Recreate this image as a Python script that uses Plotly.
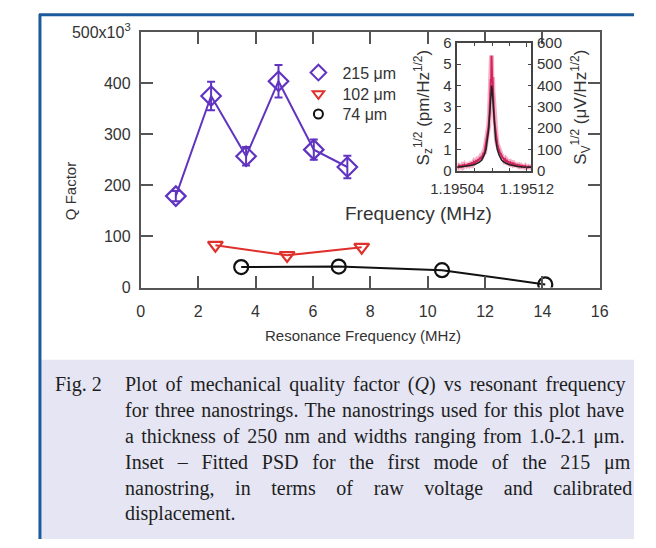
import plotly.graph_objects as go

W, H = 656, 548
def px(x): return x / W
def py(y): return 1 - y / H

# ---------------- data ----------------
series_names = ["215 μm", "102 μm", "74 μm"]
f215 = [1.22, 2.45, 3.67, 4.8, 6.03, 7.2]
q215 = [179, 375, 257, 404, 270, 236]
e215 = [10, 28, 18, 32, 20, 22]
f102 = [2.6, 5.1, 7.7]
q102 = [83, 63, 79]
f74 = [3.5, 6.9, 10.5, 14.1]
q74 = [40, 41, 34, 6]

x_ticks = [0, 2, 4, 6, 8, 10, 12, 14, 16]
y_ticks = [0, 100, 200, 300, 400, 500]
y_ticktext = ["0", "100", "200", "300", "400", "500x10<sup>3</sup>"]

# inset PSD (frequency offset in Hz from 1.19504 MHz, amplitude in pm/Hz^1/2)
psd_base_mhz = 1.19504
psd_off_hz = [0, 1, 2, 3, 4, 5, 6, 7, 8, 9, 10, 11, 12, 13, 14, 15, 16, 17, 18, 19,
              20, 21, 22, 23, 24, 25, 26, 27, 28, 29, 30, 31, 32, 33, 34, 35, 36, 37,
              37.5, 38, 38.5, 39, 39.3, 39.6, 40, 40.5, 41, 41.5, 42, 43, 44, 45, 46,
              47, 48, 49, 50, 51, 52, 53, 54, 55, 56, 57, 58, 59, 60, 61, 62, 63, 64,
              65, 66, 67, 68, 69, 70, 71, 72, 73, 74, 75, 76, 77, 78, 79, 80, 81, 82,
              83, 84, 85]
psd_val = [0.22, 0.18, 0.25, 0.2, 0.23, 0.17, 0.26, 0.22, 0.28, 0.2, 0.3, 0.24, 0.27,
           0.35, 0.28, 0.33, 0.3, 0.4, 0.34, 0.42, 0.36, 0.45, 0.5, 0.42, 0.55, 0.5,
           0.62, 0.55, 0.7, 0.65, 0.85, 0.8, 1.05, 1.15, 1.4, 1.7, 2.1, 2.7, 3.1, 3.6,
           4.3, 4.1, 5.4, 4.5, 4.3, 4.4, 3.7, 3.3, 2.8, 2.2, 1.8, 1.45, 1.25, 1.1, 0.95,
           0.85, 0.8, 0.7, 0.62, 0.6, 0.5, 0.55, 0.45, 0.48, 0.4, 0.42, 0.36, 0.4, 0.33,
           0.36, 0.3, 0.34, 0.28, 0.3, 0.26, 0.29, 0.24, 0.27, 0.22, 0.25, 0.2, 0.24,
           0.21, 0.19, 0.23, 0.18, 0.2, 0.17, 0.21, 0.18, 0.2, 0.17]
fit_off_hz = [0, 5, 10, 15, 20, 25, 28, 31, 33, 35, 36, 37, 38, 39, 39.5, 40, 41, 42,
              43, 44, 46, 48, 51, 54, 59, 64, 69, 75, 85]
fit_val = [0.17, 0.19, 0.21, 0.25, 0.3, 0.4, 0.5, 0.75, 1.0, 1.5, 1.9, 2.5, 3.2, 3.85,
           4.0, 3.85, 3.2, 2.5, 1.9, 1.5, 1.0, 0.75, 0.5, 0.4, 0.3, 0.25, 0.21, 0.19, 0.17]
inset_xticks = [1.19504, 1.19512]
inset_xticktext = ["1.19504", "1.19512"]
inset_yticks = [0, 1, 2, 3, 4, 5, 6]
inset_y2ticks = [0, 100, 200, 300, 400, 500, 600]

caption_label = "Fig. 2"
caption_lines = [
    "Plot of mechanical quality factor (<i>Q</i>) vs resonant frequency",
    "for three nanostrings. The nanostrings used for this plot have",
    "a thickness of 250 nm and widths ranging from 1.0-2.1 μm.",
    "Inset – Fitted PSD for the first mode of the 215 μm",
    "nanostring, in terms of raw voltage and calibrated",
    "displacement.",
]

# ---------------- styles ----------------
PURPLE = "#6034c0"
RED = "#e0302c"
BLACK = "#111111"
AX = "#555555"
TXT = "#333333"
SANS = "Liberation Sans, Arial, sans-serif"
SERIF = "Liberation Serif, Times New Roman, serif"

fig = go.Figure()

fig.add_trace(go.Scatter(
    x=f215, y=q215, mode="lines+markers", showlegend=False,
    line=dict(color=PURPLE, width=2),
    marker=dict(symbol="diamond-open", size=15, color=PURPLE, line=dict(width=2.2)),
    error_y=dict(type="data", array=e215, color=PURPLE, thickness=2, width=4)))
fig.add_trace(go.Scatter(
    x=f102, y=q102, mode="lines+markers", showlegend=False,
    line=dict(color=RED, width=2),
    marker=dict(symbol="triangle-down-open", size=13, color=RED, line=dict(width=2.2))))
fig.add_trace(go.Scatter(
    x=f74, y=q74, mode="lines+markers", showlegend=False,
    line=dict(color=BLACK, width=2),
    marker=dict(symbol="circle-open", size=14, color=BLACK, line=dict(width=2.2))))

# legend entries, one legend box per entry
for name, sym, col, sz, lg in [(series_names[0], "diamond-open", PURPLE, 12, "legend"),
                               (series_names[1], "triangle-down-open", RED, 10, "legend2"),
                               (series_names[2], "circle-open", BLACK, 9, "legend3")]:
    fig.add_trace(go.Scatter(x=[None], y=[None], mode="markers", name=name, legend=lg,
                             marker=dict(symbol=sym, size=sz, color=col, line=dict(width=2))))

# inset traces
psd_x = [psd_base_mhz + o * 1e-6 for o in psd_off_hz]
fit_x = [psd_base_mhz + o * 1e-6 for o in fit_off_hz]
fig.add_trace(go.Scatter(x=psd_x, y=psd_val, mode="lines", showlegend=False,
                         line=dict(color="rgba(235,110,150,0.55)", width=5),
                         xaxis="x2", yaxis="y2"))
fig.add_trace(go.Scatter(x=psd_x, y=psd_val, mode="lines", showlegend=False,
                         line=dict(color="rgba(205,20,80,0.9)", width=2),
                         xaxis="x2", yaxis="y2"))
fig.add_trace(go.Scatter(x=fit_x, y=fit_val, mode="lines", showlegend=False,
                         line=dict(color="#222222", width=1.5),
                         xaxis="x2", yaxis="y2"))
fig.add_trace(go.Scatter(x=[None], y=[None], showlegend=False, xaxis="x2", yaxis="y3"))

axis_common = dict(showline=True, linecolor=AX, linewidth=2, mirror="ticks",
                   ticks="inside", tickcolor=AX, tickwidth=2, ticklen=12,
                   showgrid=False, zeroline=False,
                   tickfont=dict(family=SANS, size=16, color=TXT))

inset_common = dict(showline=True, linecolor="#444", linewidth=1.5,
                    ticks="inside", tickcolor="#444", tickwidth=1.2, ticklen=4,
                    showgrid=False, zeroline=False,
                    tickfont=dict(family=SANS, size=15, color=TXT))

legend_style = dict(xanchor="left", yanchor="middle", bgcolor="rgba(0,0,0,0)",
                    font=dict(family=SANS, size=16, color=TXT), itemwidth=38,
                    borderwidth=0)

fig.update_layout(
    width=W, height=H, margin=dict(l=0, r=0, t=0, b=0),
    paper_bgcolor="white", plot_bgcolor="white",
    xaxis=dict(domain=[px(123), px(619)], range=[0, 16], tickvals=x_ticks,
               anchor="y", ticklabelstandoff=8, **axis_common),
    yaxis=dict(domain=[py(287), py(22)], range=[0, 500], tickvals=y_ticks,
               ticktext=y_ticktext, anchor="x", ticklabelstandoff=5, **axis_common),
    xaxis2=dict(domain=[px(465), px(545)], range=[1.19504, 1.195125],
                tickvals=inset_xticks, ticktext=inset_xticktext,
                anchor="y2", mirror="ticks", ticklabelstandoff=3,
                minor=dict(dtick=0.00002, ticks="inside", ticklen=3, tickcolor="#444"),
                **inset_common),
    yaxis2=dict(domain=[py(166), py(33)], range=[0, 6], tickvals=inset_yticks,
                anchor="x2", ticklabelstandoff=1, **inset_common),
    yaxis3=dict(domain=[py(166), py(33)], range=[0, 600], tickvals=inset_y2ticks,
                anchor="x2", overlaying="y2", side="right", ticklabelstandoff=1,
                **inset_common),
    legend=dict(x=px(289), y=py(64), **legend_style),
    legend2=dict(x=px(289), y=py(86), **legend_style),
    legend3=dict(x=px(289), y=py(107), **legend_style),
)

shapes = [
    dict(type="rect", xref="paper", yref="paper", x0=px(15), x1=1, y0=0, y1=py(362),
         fillcolor="#e5e5f3", line=dict(width=0), layer="below"),
    dict(type="line", xref="paper", yref="paper", x0=px(14), x1=px(14), y0=0, y1=py(3),
         line=dict(color="#1d5a9b", width=3)),
    dict(type="line", xref="paper", yref="paper", x0=px(13), x1=1, y0=py(4), y1=py(4),
         line=dict(color="#1d5a9b", width=3)),
]
fig.update_layout(shapes=shapes)

ann = []
ann.append(dict(text="Q Factor", x=px(36), y=py(155), xref="paper", yref="paper",
                textangle=-90, showarrow=False, font=dict(family=SANS, size=15, color=TXT)))
ann.append(dict(text="Resonance Frequency (MHz)", x=px(363), y=py(337), xref="paper",
                yref="paper", showarrow=False, font=dict(family=SANS, size=15, color=TXT)))
ann.append(dict(text="Frequency (MHz)", x=px(505), y=py(210), xref="paper", yref="paper",
                showarrow=False, font=dict(family=SANS, size=19, color=TXT)))
ann.append(dict(text="S<sub>z</sub><sup>1/2</sup> (pm/Hz<sup>1/2</sup>)", x=px(428),
                y=py(100), xref="paper", yref="paper", textangle=-90, showarrow=False,
                xanchor="center", yanchor="middle",
                font=dict(family=SANS, size=17, color=TXT)))
ann.append(dict(text="S<sub>V</sub><sup>1/2</sup> (μV/Hz<sup>1/2</sup>)", x=px(598),
                y=py(100), xref="paper", yref="paper", textangle=-90, showarrow=False,
                xanchor="center", yanchor="middle",
                font=dict(family=SANS, size=17, color=TXT)))

# caption, justified through word spacing (serif metrics, per 1000 em)
TW = {' ': 250, '(': 333, ')': 333, ',': 250, '-': 333, '.': 250, '–': 500, 'μ': 576,
      'A': 722, 'B': 667, 'C': 667, 'D': 722, 'E': 611, 'F': 556, 'G': 722, 'H': 722,
      'I': 333, 'J': 389, 'K': 722, 'L': 611, 'M': 889, 'N': 722, 'O': 722, 'P': 556,
      'Q': 722, 'R': 667, 'S': 556, 'T': 611, 'U': 722, 'V': 722, 'W': 944, 'X': 722,
      'Y': 722, 'Z': 611, 'a': 444, 'b': 500, 'c': 444, 'd': 500, 'e': 444, 'f': 333,
      'g': 500, 'h': 500, 'i': 278, 'j': 278, 'k': 500, 'l': 278, 'm': 778, 'n': 500,
      'o': 500, 'p': 500, 'q': 500, 'r': 333, 's': 389, 't': 278, 'u': 500, 'v': 500,
      'w': 722, 'x': 500, 'y': 500, 'z': 444}
for d in "0123456789":
    TW[d] = 500

CAP_SIZE = 20
RENDER_K = 1.085   # observed rendering width factor
def tw(s):
    s = s.replace("<i>", "").replace("</i>", "")
    return sum(TW.get(c, 500) for c in s) / 1000 * CAP_SIZE * RENDER_K

CAP_X0, CAP_X1 = 104, 645
CAP_Y0, CAP_DY = 388, 26.8
capfont = dict(family=SERIF, size=CAP_SIZE, color="#1e1e1e")
ann.append(dict(text=caption_label, x=px(28), y=py(CAP_Y0), xref="paper", yref="paper",
                xanchor="left", yanchor="middle", showarrow=False, font=capfont))
for i, line in enumerate(caption_lines):
    yy = py(CAP_Y0 + i * CAP_DY)
    txt = line
    if i < len(caption_lines) - 1:
        nsp = line.count(" ")
        extra = max(0.0, (CAP_X1 - CAP_X0 - tw(line)) / nsp)
        txt = '<span style="word-spacing:%.2fpx">%s</span>' % (extra, line)
    ann.append(dict(text=txt, x=px(CAP_X0), y=yy, xref="paper", yref="paper",
                    xanchor="left", yanchor="middle", showarrow=False, font=capfont))

fig.update_layout(annotations=ann)
fig.write_html("out.html")
